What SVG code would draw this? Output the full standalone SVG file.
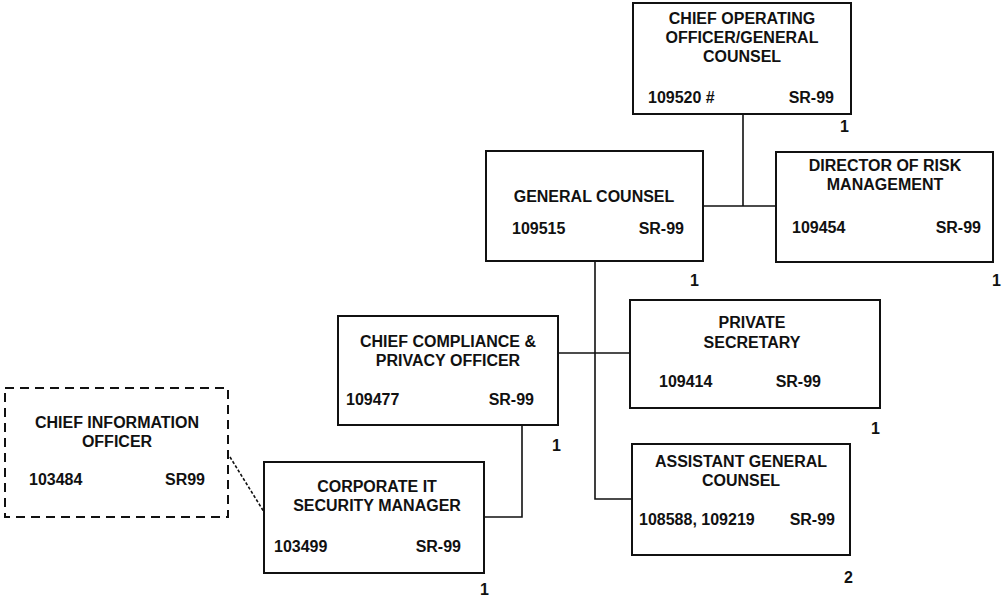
<svg xmlns="http://www.w3.org/2000/svg" width="1002" height="596" viewBox="0 0 1002 596">
<style>
.box{fill:#fff;stroke:#111;stroke-width:2}
.dash{fill:#fff;stroke:#111;stroke-width:2;stroke-dasharray:9,6}
.t{font-family:"Liberation Sans",Arial,sans-serif;font-weight:bold;font-size:16px;fill:#111}
.m{text-anchor:middle}
.e{text-anchor:end}
.ln{stroke:#111;stroke-width:1.6;fill:none}
</style>
<rect width="1002" height="596" fill="#fff"/>
<g id="connectors">
<path class="ln" d="M743 114V206M703 206H776"/>
<path class="ln" d="M595 261V499H632"/>
<path class="ln" d="M558 353H630"/>
<path class="ln" d="M522 425V517H484"/>
<path class="ln" d="M230 457L264 512" stroke-dasharray="3,2"/>
</g>
<g id="coo">
<rect class="box" x="633" y="3" width="218" height="111"/>
<text class="t m" x="742" y="24">CHIEF OPERATING</text>
<text class="t m" x="742" y="43">OFFICER/GENERAL</text>
<text class="t m" x="742" y="62">COUNSEL</text>
<text class="t" x="648" y="103">109520 #</text>
<text class="t e" x="834" y="103">SR-99</text>
<text class="t" x="840" y="132">1</text>
</g>
<g id="gc">
<rect class="box" x="486" y="151" width="217" height="110"/>
<text class="t m" x="594" y="202">GENERAL COUNSEL</text>
<text class="t" x="512" y="234">109515</text>
<text class="t e" x="684" y="234">SR-99</text>
<text class="t" x="690" y="286">1</text>
</g>
<g id="drm">
<rect class="box" x="776" y="152" width="217" height="110"/>
<text class="t m" x="885" y="171">DIRECTOR OF RISK</text>
<text class="t m" x="885" y="190">MANAGEMENT</text>
<text class="t" x="792" y="233">109454</text>
<text class="t e" x="981" y="233">SR-99</text>
<text class="t" x="992" y="286">1</text>
</g>
<g id="ccpo">
<rect class="box" x="338" y="316" width="220" height="109"/>
<text class="t m" x="448" y="347">CHIEF COMPLIANCE &amp;</text>
<text class="t m" x="448" y="366">PRIVACY OFFICER</text>
<text class="t" x="346" y="405">109477</text>
<text class="t e" x="534" y="405">SR-99</text>
<text class="t" x="552" y="451">1</text>
</g>
<g id="ps">
<rect class="box" x="630" y="300" width="250" height="108"/>
<text class="t m" x="752" y="328">PRIVATE</text>
<text class="t m" x="752" y="348">SECRETARY</text>
<text class="t" x="659" y="387">109414</text>
<text class="t e" x="821" y="387">SR-99</text>
<text class="t" x="871" y="434">1</text>
</g>
<g id="agc">
<rect class="box" x="632" y="444" width="218" height="111"/>
<text class="t m" x="741" y="467">ASSISTANT GENERAL</text>
<text class="t m" x="741" y="486">COUNSEL</text>
<text class="t" x="639" y="525">108588, 109219</text>
<text class="t e" x="835" y="525">SR-99</text>
<text class="t" x="844" y="583">2</text>
</g>
<g id="citsm">
<rect class="box" x="264" y="462" width="220" height="111"/>
<text class="t m" x="377" y="492">CORPORATE IT</text>
<text class="t m" x="377" y="511">SECURITY MANAGER</text>
<text class="t" x="274" y="552">103499</text>
<text class="t e" x="461" y="552">SR-99</text>
<text class="t" x="480" y="595">1</text>
</g>
<g id="cio">
<rect class="dash" x="5" y="388" width="223" height="129"/>
<text class="t m" x="117" y="428">CHIEF INFORMATION</text>
<text class="t m" x="117" y="447">OFFICER</text>
<text class="t" x="29" y="485">103484</text>
<text class="t e" x="205" y="485">SR99</text>
</g>
</svg>
